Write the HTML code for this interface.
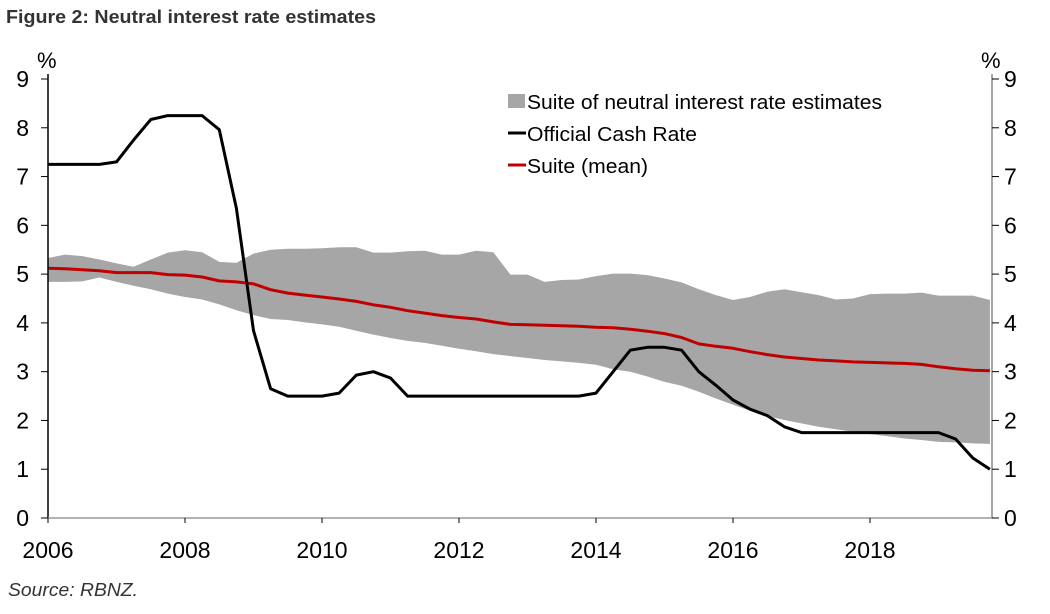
<!DOCTYPE html>
<html><head><meta charset="utf-8"><style>
body{margin:0;background:#fff;font-family:"Liberation Sans",sans-serif;}
svg text{font-family:"Liberation Sans",sans-serif;}
</style></head><body>
<svg width="1050" height="609" viewBox="0 0 1050 609" xmlns="http://www.w3.org/2000/svg">
<text x="6" y="23" font-size="18" font-weight="bold" fill="#333" textLength="370" lengthAdjust="spacingAndGlyphs">Figure 2: Neutral interest rate estimates</text>
<text x="37" y="68" font-size="22" fill="#000">%</text>
<text x="981" y="68" font-size="22" fill="#000">%</text>
<g id="plot"></g>
<g>
<rect x="508" y="94" width="17" height="14" fill="#a6a6a6"></rect>
<text x="527" y="109" font-size="20" textLength="355" lengthAdjust="spacingAndGlyphs">Suite of neutral interest rate estimates</text>
<line x1="508" y1="133" x2="526" y2="133" stroke="#000" stroke-width="3"></line>
<text x="527" y="141" font-size="20" textLength="170" lengthAdjust="spacingAndGlyphs">Official Cash Rate</text>
<line x1="508" y1="165" x2="526" y2="165" stroke="#c00000" stroke-width="3"></line>
<text x="527" y="173" font-size="20" textLength="121" lengthAdjust="spacingAndGlyphs">Suite (mean)</text>
</g>
<text x="8" y="596" font-size="18" font-style="italic" fill="#333" textLength="130" lengthAdjust="spacingAndGlyphs">Source: RBNZ.</text>
</svg>
<script>
const startYear = 2006;
const xTicks = [2006,2008,2010,2012,2014,2016,2018];
const yTicks = [0,1,2,3,4,5,6,7,8,9];
const ocr = [7.25,7.25,7.25,7.25,7.3,7.75,8.17,8.25,8.25,8.25,7.96,6.35,3.84,2.65,2.5,2.5,2.5,2.56,2.93,3.0,2.87,2.5,2.5,2.5,2.5,2.5,2.5,2.5,2.5,2.5,2.5,2.5,2.56,3.0,3.44,3.5,3.5,3.44,3.0,2.72,2.42,2.23,2.1,1.87,1.75,1.75,1.75,1.75,1.75,1.75,1.75,1.75,1.75,1.62,1.23,1.0];
const bandHigh = [5.33,5.4,5.37,5.3,5.22,5.15,5.3,5.44,5.49,5.45,5.25,5.23,5.42,5.5,5.52,5.52,5.53,5.55,5.55,5.44,5.44,5.47,5.48,5.4,5.4,5.48,5.45,4.99,4.99,4.84,4.88,4.89,4.96,5.01,5.01,4.98,4.91,4.83,4.69,4.57,4.47,4.53,4.64,4.69,4.63,4.57,4.48,4.5,4.59,4.6,4.6,4.62,4.56,4.56,4.56,4.47];
const bandLow = [4.84,4.84,4.85,4.93,4.84,4.76,4.69,4.6,4.53,4.48,4.38,4.26,4.16,4.08,4.06,4.01,3.97,3.92,3.84,3.76,3.69,3.63,3.59,3.53,3.47,3.42,3.36,3.32,3.28,3.24,3.21,3.18,3.14,3.05,3.0,2.9,2.79,2.71,2.59,2.45,2.32,2.2,2.09,2.01,1.94,1.87,1.82,1.77,1.72,1.68,1.63,1.6,1.56,1.55,1.53,1.52];
const suiteMean = [5.12,5.11,5.09,5.07,5.03,5.03,5.03,4.99,4.98,4.94,4.86,4.84,4.8,4.68,4.61,4.57,4.53,4.49,4.44,4.37,4.32,4.25,4.2,4.15,4.11,4.08,4.02,3.97,3.96,3.95,3.94,3.93,3.91,3.9,3.87,3.83,3.78,3.7,3.57,3.52,3.48,3.41,3.35,3.3,3.27,3.24,3.22,3.2,3.19,3.18,3.17,3.15,3.1,3.06,3.03,3.02];

const X0=48, X1=992, Y0=518, Y9=79;
const pxPerYear=68.5;
function xs(t){return X0+(t-startYear)*pxPerYear;}
function ys(v){return Y0-(v/9)*(Y0-Y9);}
function xi(i){return xs(startYear+i*0.25);}
const NS="http://www.w3.org/2000/svg";
const g=document.getElementById('plot');
function mk(tag,attrs){const e=document.createElementNS(NS,tag);for(const k in attrs)e.setAttribute(k,attrs[k]);g.appendChild(e);return e;}

let d='';
bandHigh.forEach((v,i)=>{d+=(i?'L':'M')+xi(i).toFixed(1)+','+ys(v).toFixed(1);});
for(let i=bandLow.length-1;i>=0;i--){d+='L'+xi(i).toFixed(1)+','+ys(bandLow[i]).toFixed(1);}
const band=mk('path',{d:d+'Z',fill:'#a6a6a6'});



function line(arr,color,name){
  const p=arr.map((v,i)=>xi(i).toFixed(1)+','+ys(v).toFixed(1)).join(' ');
  const e=mk('polyline',{points:p,fill:'none',stroke:color,'stroke-width':3,'stroke-linejoin':'round'});
  
  
}
line(suiteMean,'#c00000','suite-mean-line');
line(ocr,'#000','ocr-line');

const la=mk('line',{x1:X0,y1:Y9-5,x2:X0,y2:Y0,stroke:'#000','stroke-width':1.5});


const ra=mk('line',{x1:X1,y1:Y9-5,x2:X1,y2:Y0,stroke:'#888','stroke-width':1.5});


const ba=mk('line',{x1:X0,y1:Y0,x2:X1,y2:Y0,stroke:'#999','stroke-width':1.5});



yTicks.forEach(v=>{
  const y=ys(v);
  mk('line',{x1:X0-7,y1:y,x2:X0,y2:y,stroke:'#000','stroke-width':1});
  mk('line',{x1:X1,y1:y,x2:X1+7,y2:y,stroke:'#000','stroke-width':1});
  const t1=mk('text',{x:29,y:y+8,'font-size':23,'text-anchor':'end'});t1.textContent=v;
  
  
  const t2=mk('text',{x:1004,y:y+8,'font-size':23});t2.textContent=v;
  
  
});
xTicks.forEach(yr=>{
  const x=xs(yr);
  mk('line',{x1:x,y1:Y0,x2:x,y2:Y0+5,stroke:'#000','stroke-width':1});
  const t=mk('text',{x:x,y:558,'font-size':23,'text-anchor':'middle'});t.textContent=yr;
  
  
});
</script>
</body></html>
